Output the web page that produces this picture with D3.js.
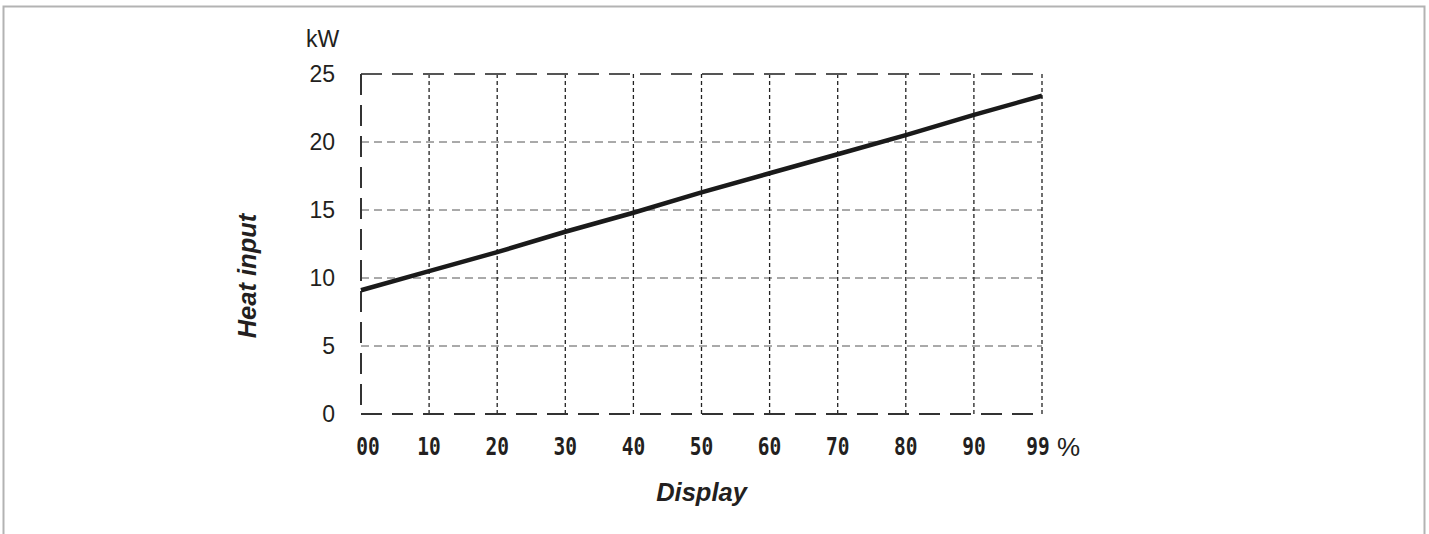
<!DOCTYPE html>
<html>
<head>
<meta charset="utf-8">
<script src="https://cdn.jsdelivr.net/npm/d3@7"></script>
<style>
  body { margin: 0; background: #fff; }
  svg { display: block; font-family: "Liberation Sans", Arial, sans-serif; }
</style>
</head>
<body>
<div id="chart"></div>
<script>
// display setting (tick labels) and heat input in kW
var displayTicks = ['00', '10', '20', '30', '40', '50', '60', '70', '80', '90', '99'];
var heatInput = [9.1, 10.5, 11.9, 13.4, 14.8, 16.3, 17.7, 19.1, 20.5, 22.0, 23.4];
var yTicks = [0, 5, 10, 15, 20, 25];

var width = 1429, height = 534;
var margin = {left: 361, right: 387, top: 74, bottom: 120};

var svg = d3.select('div#chart').append('svg')
    .attr('width', width)
    .attr('height', height);

// outer frame
svg.append('path')
    .attr('d', 'M3.5,' + height + 'V6.5H1424.5V' + height)
    .attr('fill', 'none')
    .attr('stroke', '#b3b3b3')
    .attr('stroke-width', 2);

var xScale = d3.scalePoint()
    .domain(displayTicks)
    .range([margin.left, width - margin.right]);

var yScale = d3.scaleLinear()
    .domain([0, 25])
    .range([height - margin.bottom, margin.top]);

var x0 = xScale.range()[0], x1 = xScale.range()[1];
var y0 = yScale(0), y1 = yScale(25);

// horizontal grid lines
svg.append('g').selectAll('line')
    .data(yTicks.filter(function (d) { return d > 0 && d < 25; }))
    .join('line')
    .attr('x1', x0).attr('x2', x1)
    .attr('y1', function (d) { return yScale(d); })
    .attr('y2', function (d) { return yScale(d); })
    .attr('stroke', '#555')
    .attr('stroke-width', 1)
    .attr('stroke-dasharray', '8,5');

// vertical grid lines
svg.append('g').selectAll('line')
    .data(displayTicks.slice(1))
    .join('line')
    .attr('x1', function (d) { return xScale(d); })
    .attr('x2', function (d) { return xScale(d); })
    .attr('y1', y1).attr('y2', y0)
    .attr('stroke', '#222')
    .attr('stroke-width', 1.3)
    .attr('stroke-dasharray', '4,3');

// top border
svg.append('line')
    .attr('x1', x0).attr('x2', x1)
    .attr('y1', y1).attr('y2', y1)
    .attr('stroke', '#555')
    .attr('stroke-width', 2)
    .attr('stroke-dasharray', '21,10');

// bottom axis
svg.append('line')
    .attr('x1', x0).attr('x2', x1)
    .attr('y1', y0).attr('y2', y0)
    .attr('stroke', '#333')
    .attr('stroke-width', 2)
    .attr('stroke-dasharray', '21,10');

// left axis
svg.append('line')
    .attr('x1', x0).attr('x2', x0)
    .attr('y1', y1).attr('y2', y0)
    .attr('stroke', '#333')
    .attr('stroke-width', 2)
    .attr('stroke-dasharray', '21,10');

// heat input line
var line = d3.line()
    .x(function (d, i) { return xScale(displayTicks[i]); })
    .y(function (d) { return yScale(d); });

svg.append('path')
    .datum(heatInput)
    .attr('d', line)
    .attr('fill', 'none')
    .attr('stroke', '#1a1a1a')
    .attr('stroke-width', 4.5);

// y tick labels
svg.append('g').selectAll('text')
    .data(yTicks)
    .join('text')
    .attr('x', 335)
    .attr('y', function (d) { return yScale(d) + 8; })
    .attr('text-anchor', 'end')
    .attr('font-size', 23)
    .attr('fill', '#231f20')
    .text(function (d) { return d; });

svg.append('text')
    .attr('x', 306).attr('y', 47)
    .attr('font-size', 23)
    .attr('fill', '#231f20')
    .text('kW');

// x tick labels (digital display style)
svg.append('g').selectAll('text')
    .data(displayTicks)
    .join('text')
    .attr('transform', function (d, i) {
        var dx = i === 0 ? 7 : (i === displayTicks.length - 1 ? -4 : 0);
        return 'translate(' + (xScale(d) + dx) + ',455) scale(0.78,1)';
    })
    .attr('text-anchor', 'middle')
    .attr('font-family', '"DejaVu Sans Mono", monospace')
    .attr('font-weight', 'bold')
    .attr('font-size', 25)
    .attr('fill', '#231f20')
    .text(function (d) { return d; });

svg.append('text')
    .attr('x', x1 + 15).attr('y', 456)
    .attr('font-size', 26)
    .attr('fill', '#231f20')
    .text('%');

// axis titles
svg.append('text')
    .attr('x', (x0 + x1) / 2).attr('y', 501)
    .attr('text-anchor', 'middle')
    .attr('font-size', 25.5)
    .attr('font-weight', 'bold')
    .attr('font-style', 'italic')
    .attr('fill', '#231f20')
    .text('Display');

svg.append('text')
    .attr('transform', 'translate(256,276) rotate(-90)')
    .attr('text-anchor', 'middle')
    .attr('font-size', 25.5)
    .attr('font-weight', 'bold')
    .attr('font-style', 'italic')
    .attr('fill', '#231f20')
    .text('Heat input');
</script>
</body>
</html>
